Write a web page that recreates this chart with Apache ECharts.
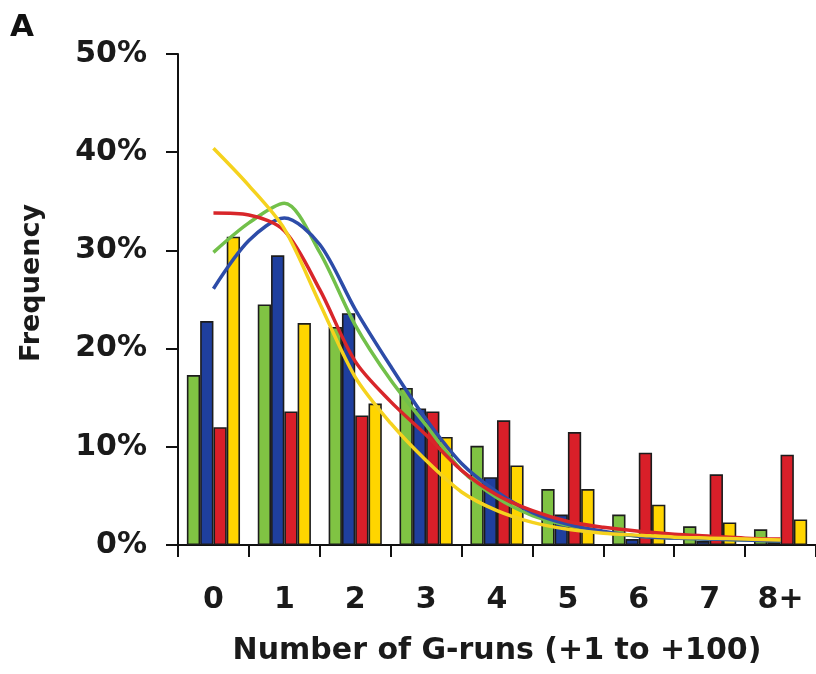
<!DOCTYPE html>
<html>
<head>
<meta charset="utf-8">
<script src="https://cdn.jsdelivr.net/npm/echarts@6/dist/echarts.min.js"></script>
<style>
html,body{margin:0;padding:0;background:#fff;}
#chart{width:816px;height:674px;}
</style>
</head>
<body>
<div id="chart"></div>
<script>
var categories = ['0', '1', '2', '3', '4', '5', '6', '7', '8+'];
var yTicks = [0, 10, 20, 30, 40, 50];

// bar values (%)
var greenBars  = [17.3, 24.5, 22.2, 16.0, 10.1, 5.7, 3.1, 1.9, 1.6];
var blueBars   = [22.8, 29.5, 23.6, 13.9, 6.9, 3.1, 0.6, 0.4, 0.3];
var redBars    = [12.0, 13.6, 13.2, 13.6, 12.7, 11.5, 9.4, 7.2, 9.2];
var yellowBars = [31.4, 22.6, 14.4, 11.0, 8.1, 5.7, 4.1, 2.3, 2.6];

// fitted curves (%), read at every half category (position in category units)
var curveX     = [0, 0.5, 1, 1.5, 2, 2.5, 3, 3.5, 4, 4.5, 5, 5.5, 6, 6.5, 7, 7.5, 8];
var greenLine  = [29.8, 32.8, 34.8, 29.8, 22.4, 16.8, 12.2, 7.6, 4.8, 3.0, 2.0, 1.3, 0.9, 0.7, 0.6, 0.5, 0.4];
var blueLine   = [26.1, 31.0, 33.3, 30.6, 24.0, 18.2, 12.8, 8.3, 5.4, 3.3, 2.1, 1.4, 0.9, 0.7, 0.6, 0.5, 0.4];
var redLine    = [33.8, 33.6, 32.0, 26.0, 18.7, 14.6, 11.2, 7.6, 5.1, 3.5, 2.4, 1.8, 1.4, 1.1, 0.9, 0.7, 0.6];
var yellowLine = [40.4, 36.6, 32.2, 24.6, 17.1, 12.4, 8.6, 5.4, 3.5, 2.3, 1.6, 1.2, 1.0, 0.8, 0.7, 0.6, 0.5];

var FONT = 'DejaVu Sans';
var chart = echarts.init(document.getElementById('chart'), null, {renderer: 'canvas'});

function barSeries(name, data, color) {
  return {
    name: name, type: 'bar', data: data, xAxisIndex: 0,
    barGap: '0%', barCategoryGap: '25%',
    itemStyle: {color: color, borderColor: '#1c1c1c', borderWidth: 1.6},
    z: 2
  };
}
function lineSeries(name, values, color) {
  return {
    name: name, type: 'line', xAxisIndex: 1,
    data: curveX.map(function (x, i) { return [x, values[i]]; }),
    smooth: 0.3, symbol: 'none',
    lineStyle: {color: color, width: 3.5},
    z: 5
  };
}

chart.setOption({
  animation: false,
  backgroundColor: '#ffffff',
  grid: {left: 178, top: 54, bottom: 129, right: -5.5},
  graphic: [
    {type: 'text', left: 10, top: 12,
     style: {text: 'A', font: 'bold 31px "DejaVu Sans"', fill: '#111'}},
    {type: 'text', x: 18, y: 283, rotation: Math.PI / 2,
     style: {text: 'Frequency', font: 'bold 27px "DejaVu Sans"', fill: '#1a1a1a',
             align: 'center', verticalAlign: 'top'}}
  ],
  xAxis: [{
    type: 'category', data: categories,
    name: 'Number of G-runs (+1 to +100)',
    nameLocation: 'middle', nameGap: 91,
    nameTextStyle: {fontFamily: FONT, fontWeight: 'bold', fontSize: 30, color: '#1a1a1a'},
    axisLine: {onZero: false, lineStyle: {color: '#111', width: 2}},
    axisTick: {show: true, length: 12, lineStyle: {color: '#111', width: 2}},
    axisLabel: {fontFamily: FONT, fontWeight: 'bold', fontSize: 30, color: '#1a1a1a', margin: 40}
  }, {
    type: 'value', min: -0.5, max: 8.5, show: false
  }],
  yAxis: {
    type: 'value', min: 0, max: 50, interval: 10,
    axisLine: {show: true, onZero: false, lineStyle: {color: '#111', width: 2}},
    axisTick: {show: true, length: 12, lineStyle: {color: '#111', width: 2}},
    splitLine: {show: false},
    axisLabel: {fontFamily: FONT, fontWeight: 'bold', fontSize: 30, color: '#1a1a1a', margin: 31,
                formatter: function (v) { return yTicks.indexOf(v) >= 0 ? v + '%' : ''; }}
  },
  series: [
    barSeries('Green', greenBars, '#80c343'),
    barSeries('Blue', blueBars, '#1f3f9e'),
    barSeries('Red', redBars, '#d91f29'),
    barSeries('Yellow', yellowBars, '#ffd500'),
    lineSeries('Green fit', greenLine, '#72c04a'),
    lineSeries('Blue fit', blueLine, '#2d4ca8'),
    lineSeries('Red fit', redLine, '#d8262a'),
    lineSeries('Yellow fit', yellowLine, '#f5d21e')
  ]
});
</script>
</body>
</html>
